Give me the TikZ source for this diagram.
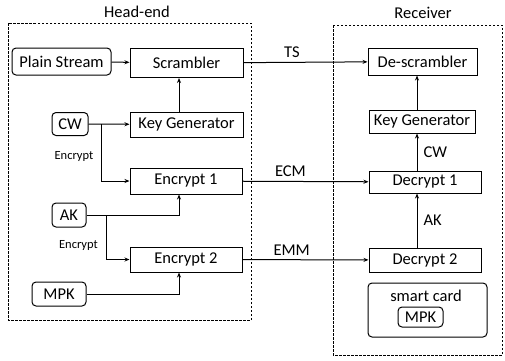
\documentclass[tikz,border=0pt]{standalone}
\usepackage{fontspec}
\setmainfont{Carlito}
\usetikzlibrary{arrows.meta}
\begin{document}
\begin{tikzpicture}[x=1pt,y=-1pt,
  box/.style={draw,line width=1pt,inner sep=0pt,font=\fontsize{16.5}{18}\selectfont},
  rbox/.style={box,rounded corners=4pt},
  lbl/.style={inner sep=0pt,font=\fontsize{16.5}{18}\selectfont},
  small/.style={inner sep=0pt,font=\fontsize{12.5}{13}\selectfont},
  region/.style={draw,line width=1pt,dash pattern=on 2.5pt off 1.5pt},
  arr/.style={line width=1pt,-{Stealth[length=5pt,width=4pt]}},
  ln/.style={line width=1pt}]
\useasboundingbox (0,0) rectangle (505,360);
% regions
\draw[region] (8,23) rectangle (251,320);
\draw[region] (333,25) rectangle (502,355);
\node[lbl] (th) at (137,12) {Head-end};
\node[lbl] (tr) at (423,13) {Receiver};
% head-end nodes
\node[rbox,minimum width=99pt,minimum height=27pt] (ps) at (61.5,61.5) {Plain Stream};
\node[box,minimum width=113pt,minimum height=29pt] (scr) at (186.5,63) {Scrambler};
\node[rbox,minimum width=36pt,minimum height=23pt] (cw) at (70,124) {CW};
\node[box,minimum width=113pt,minimum height=25pt] (kg) at (186.5,124.5) {Key Generator};
\node[box,minimum width=112pt,minimum height=26pt] (e1) at (186,181) {Encrypt 1};
\node[rbox,minimum width=34pt,minimum height=24pt] (ak) at (69,215) {AK};
\node[box,minimum width=112pt,minimum height=25pt] (e2) at (186,259.5) {Encrypt 2};
\node[rbox,minimum width=54pt,minimum height=24pt] (mpk) at (59,294) {MPK};
\node[small] (enc1) at (74,156) {Encrypt};
\node[small] (enc2) at (78.5,245) {Encrypt};
\coordinate (hx) at (179,0);
\coordinate (cwb) at (101,0);
\coordinate (akb) at (106,0);
% receiver nodes
\node[box,minimum width=109pt,minimum height=27pt] (ds) at (422.5,61.5) {De-scrambler};
\node[box,minimum width=106pt,minimum height=23pt] (kgr) at (422,121.5) {Key Generator};
\node[box,minimum width=112pt,minimum height=22pt] (d1) at (425,182) {Decrypt 1};
\node[box,minimum width=112pt,minimum height=24pt] (d2) at (425,260) {Decrypt 2};
\node[rbox,minimum width=119pt,minimum height=54pt] (sc) at (427.5,310) {};
\node[lbl] (sct) at (426,296) {smart card};
\node[rbox,minimum width=45pt,minimum height=20pt] (mpk2) at (420.5,317) {MPK};
\coordinate (rx) at (417,0);
% head-end connectors
\draw[arr] (ps) -- (scr);
\draw[arr] (cw) -- (kg);
\draw[arr] (kg.north -| hx) -- (scr.south -| hx);
\draw[arr] (cw.east -| cwb) |- (e1.west);
\draw[arr] (ak.east) -| (e1.south -| hx);
\draw[arr] (ak.east -| akb) |- (e2.west);
\draw[arr] (mpk.east) -| (e2.south -| hx);
% cross connectors
\draw[arr] (scr) -- (ds) node[lbl,pos=0.39,above=4pt] {TS};
\draw[arr] (e1) -- (d1) node[lbl,pos=0.38,above=4pt] {ECM};
\draw[arr] (e2) -- (d2) node[lbl,pos=0.39,above=4pt] {EMM};
% receiver connectors
\draw[arr] (kgr.north -| rx) -- (ds.south -| rx);
\draw[arr] (d1.north -| rx) -- (kgr.south -| rx) node[lbl,midway,right=6pt] {CW};
\draw[arr] (d2.north -| rx) -- (d1.south -| rx) node[lbl,midway,right=6pt] {AK};
\end{tikzpicture}
\end{document}
